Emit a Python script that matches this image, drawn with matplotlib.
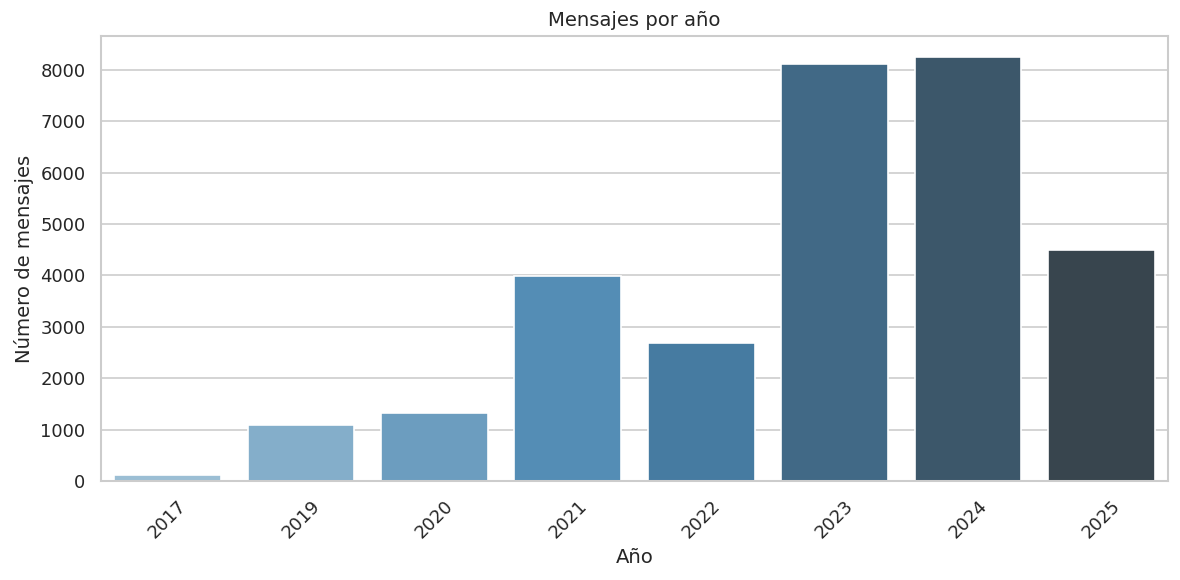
import matplotlib
matplotlib.use('Agg')
import matplotlib.pyplot as plt
import seaborn as sns

# mensajes por año
years = ['2017', '2019', '2020', '2021', '2022', '2023', '2024', '2025']
counts = [125, 1085, 1330, 3985, 2690, 8110, 8245, 4490]

sns.set_theme(style='whitegrid')
fig, ax = plt.subplots(figsize=(10, 580 / 118), dpi=118)
sns.barplot(x=years, y=counts, hue=years, palette='Blues_d', legend=False, ax=ax)
ax.set_title('Mensajes por año')
ax.set_xlabel('Año')
ax.set_ylabel('Número de mensajes')
plt.xticks(rotation=45)
fig.subplots_adjust(left=0.0856, right=0.9898, top=0.9379, bottom=0.1707)
plt.savefig('out.png')
plt.close()
